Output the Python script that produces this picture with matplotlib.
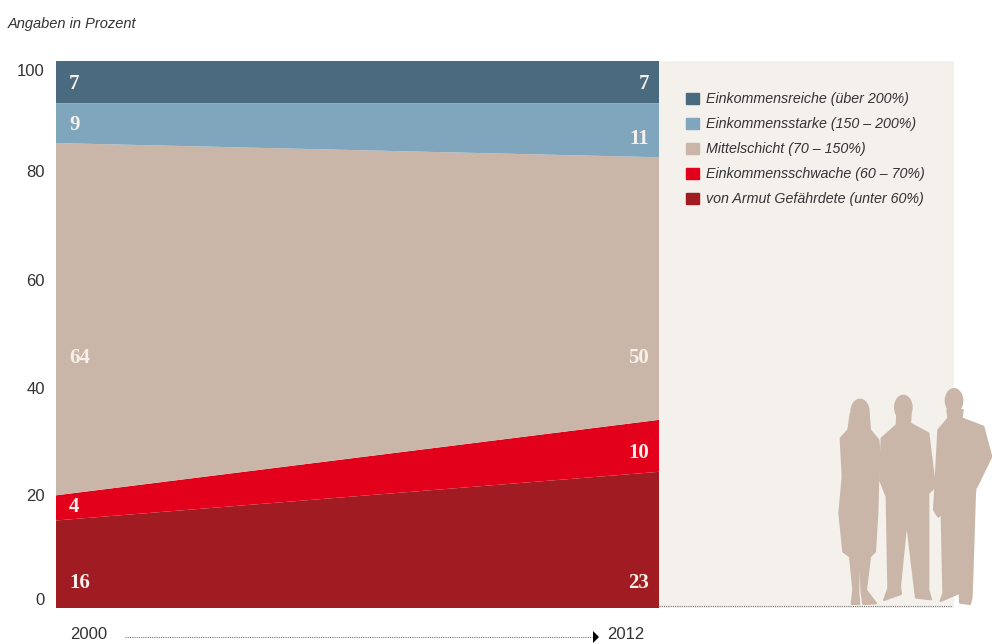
# plot.py
import matplotlib
matplotlib.use('Agg')
import matplotlib.pyplot as plt
from matplotlib.patches import Ellipse, Patch, Polygon, Rectangle
from matplotlib.transforms import ScaledTranslation

years = [2000, 2012]

# band heights as drawn (the printed labels are rounded, 2012 adds up to 101)
armut = [16.0, 24.9]
schwach = [4.6, 9.5]
mitte = [64.4, 48.0]
stark = [7.3, 9.9]
reich = [7.7, 7.7]

labels_2000 = ['16', '4', '64', '9', '7']
labels_2012 = ['23', '10', '50', '11', '7']

legend_names = ['Einkommensreiche (über 200%)',
                'Einkommensstarke (150 – 200%)',
                'Mittelschicht (70 – 150%)',
                'Einkommensschwache (60 – 70%)',
                'von Armut Gefährdete (unter 60%)']

colors = ['#a01b22', '#e2001a', '#c9b6a8', '#7fa6bc', '#4a6a80']

ytick_labels = ['0', '20', '40', '60', '80', '100']

W, H = 992, 644
fig = plt.figure(figsize=(W / 100, H / 100), dpi=100)
fig.patch.set_facecolor('white')
sans = ['Liberation Sans', 'DejaVu Sans']
serif = ['Liberation Serif', 'DejaVu Serif']
dark = '#333333'

# overlay in pixel coordinates for the panel, silhouettes and dotted lines
bg = fig.add_axes([0, 0, 1, 1])
bg.set_xlim(0, W)
bg.set_ylim(H, 0)
bg.axis('off')
bg.add_patch(Rectangle((659, 61), 295, 547, color='#f4f0ec', lw=0))

# silhouettes, traced on a 3x crop whose corner is at (820, 380)
skin = '#c9b6a8'
woman = [(92, 100), (146, 100), (150, 150), (175, 180), (180, 230), (175, 290),
         (172, 400), (165, 515), (150, 530), (138, 630), (168, 670), (130, 672), (125, 640),
         (120, 530), (116, 530), (115, 640), (118, 672), (95, 672), (100, 630), (90, 530),
         (70, 515), (58, 400), (68, 290), (62, 175), (85, 150)]
man1 = [(232, 100), (272, 100), (270, 130), (325, 160), (345, 320), (325, 340),
        (325, 630), (333, 658), (288, 653), (285, 630), (260, 420), (240, 620), (243, 642),
        (192, 660), (205, 625), (200, 350), (180, 300), (185, 175), (230, 135)]
man2 = [(382, 90), (428, 90), (425, 115), (490, 140), (514, 230), (470, 320),
        (445, 298), (478, 225), (465, 340), (455, 650), (450, 672), (420, 668), (415, 480),
        (410, 480), (415, 640), (362, 663), (370, 640), (365, 400), (355, 410), (342, 390),
        (355, 150), (385, 115)]
heads = [(120, 95, 58, 78), (250, 82, 56, 76), (402, 62, 56, 76)]
for shape in [woman, man1, man2]:
    pts = [(820 + px / 3, 380 + py / 3) for px, py in shape]
    bg.add_patch(Polygon(pts, closed=True, facecolor=skin, edgecolor=skin, lw=1.5, joinstyle='round'))
for hx, hy, hw, hh in heads:
    bg.add_patch(Ellipse((820 + hx / 3, 380 + hy / 3), hw / 3, hh / 3, color=skin, lw=0))

bg.plot([659, 952], [606, 606], color='#777777', lw=0.8, ls=(0, (1, 1)))
bg.plot([125, 592], [637, 637], color='#777777', lw=0.8, ls=(0, (1, 1)))
bg.add_patch(Polygon([(593, 631), (599, 637), (593, 643)], closed=True, color='black', lw=0))

# stacked areas
ax = fig.add_axes([56 / W, 1 - 608 / H, (659 - 56) / W, (608 - 61) / H])
ax.patch.set_alpha(0)
ax.stackplot(years, armut, schwach, mitte, stark, reich, colors=colors, lw=0)
ax.set_xlim(2000, 2012)
ax.set_ylim(0, 100)
for s in ax.spines.values():
    s.set_visible(False)

# the printed scale sits slightly inside the area, so ends are pulled in
ax.set_yticks([1.6, 20.7, 40.2, 60, 79.9, 98.4])
ax.set_yticklabels(ytick_labels, family=sans, fontsize=12, color=dark)
ax.tick_params(axis='y', length=0, pad=8)
ax.set_xticks(years)
ax.set_xticklabels(['2000', '2012'], family=sans, fontsize=12, color=dark)
ax.tick_params(axis='x', length=0, pad=14)
xt = ax.get_xticklabels()
xt[0].set_ha('left')
xt[0].set_transform(xt[0].get_transform() + ScaledTranslation(14 / 100, 0, fig.dpi_scale_trans))
xt[1].set_ha('right')
xt[1].set_transform(xt[1].get_transform() + ScaledTranslation(-15 / 100, 0, fig.dpi_scale_trans))

# value labels
left_y = [4.6, 18.4, 45.7, 88.3, 95.8]
right_y = [4.6, 28.3, 45.7, 85.8, 95.8]
for txt, y in zip(labels_2000, left_y):
    ax.annotate(txt, (2000, y), xytext=(13, 0), textcoords='offset pixels', ha='left', va='center',
                family=serif, weight='bold', fontsize=15, color='#f7efe9')
for txt, y in zip(labels_2012, right_y):
    ax.annotate(txt, (2012, y), xytext=(-10, 0), textcoords='offset pixels', ha='right', va='center',
                family=serif, weight='bold', fontsize=15, color='#f7efe9')

handles = [Patch(color=c) for c in colors[::-1]]
leg = fig.legend(handles, legend_names, loc='upper left', bbox_to_anchor=(685 / W, 1 - 91 / H),
                 frameon=False, handlelength=0.9, handleheight=0.9, handletextpad=0.5,
                 labelspacing=0.77, borderpad=0.1, borderaxespad=0,
                 prop={'family': sans, 'style': 'italic', 'size': 10.3})
for t in leg.get_texts():
    t.set_color(dark)

fig.text(8 / W, 1 - 24 / H, 'Angaben in Prozent', family=sans, style='italic',
         fontsize=10.5, color=dark, va='center')

fig.savefig('out.png', dpi=100)
